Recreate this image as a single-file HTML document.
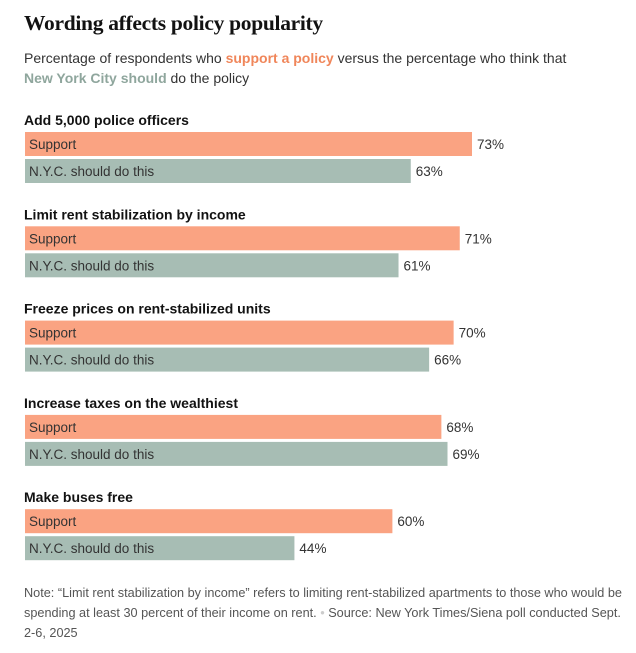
<!DOCTYPE html>
<html><head><meta charset="utf-8"><style>
body{margin:0;background:#fff;width:636px;height:653px;overflow:hidden;font-family:"Liberation Sans",sans-serif;color:#121212}
#title{position:absolute;left:24px;top:11px;font-family:"Liberation Serif",serif;font-weight:bold;font-size:21.5px;letter-spacing:-0.3px}
#sub{position:absolute;left:24px;top:49px;font-size:14px;line-height:19.5px;color:#333;width:550px}
.o{color:#f0865a;font-weight:bold}.g{color:#8fa69d;font-weight:bold}
#note{position:absolute;left:24px;top:583px;font-size:12.7px;line-height:20px;color:#555;width:600px}
svg{position:absolute;left:0;top:0}
</style></head><body>
<div id="title">Wording affects policy popularity</div>
<div id="sub">Percentage of respondents who <span class="o">support a policy</span> versus the percentage who think that<br><span class="g">New York City should</span> do the policy</div>
<svg id="chart" width="636" height="653"></svg>
<div id="note">Note: “Limit rent stabilization by income” refers to limiting rent-stabilized apartments to those who would be spending at least 30 percent of their income on rent. <span style="color:#ccc">•</span> Source: New York Times/Siena poll conducted Sept. 2-6, 2025</div>
<script>
const categories=["Add 5,000 police officers","Limit rent stabilization by income","Freeze prices on rent-stabilized units","Increase taxes on the wealthiest","Make buses free"];
const supportValues=[73,71,70,68,60];
const nycValues=[63,61,66,69,44];
const seriesLabels=["Support","N.Y.C. should do this"];
const svg=document.getElementById('chart');
const NS='http://www.w3.org/2000/svg';
const x0=25,pxPer=447/73;
function xs(v){return v*pxPer;}
function add(tag,attrs,text){const e=document.createElementNS(NS,tag);for(const k in attrs)e.setAttribute(k,attrs[k]);if(text!==undefined)e.textContent=text;svg.appendChild(e);return e;}
categories.forEach((c,i)=>{
  const gy=132+i*94.3;
  const t=add('text',{x:24,y:gy-7,'font-size':14,'font-weight':'bold',fill:'#121212','font-family':'Liberation Sans, sans-serif'},c);
  
  
  [[supportValues[i],'#faa382',0],[nycValues[i],'#a7bdb4',1]].forEach(([v,col,j])=>{
    const y=gy+j*27;
    const r=add('rect',{x:x0,y:y,width:xs(v),height:24,fill:col});
    
    
    const l=add('text',{x:x0+4,y:y+17,'font-size':13.5,fill:'#333','font-family':'Liberation Sans, sans-serif'},seriesLabels[j]);
    
    
    const vl=add('text',{x:x0+xs(v)+5,y:y+17,'font-size':13.5,fill:'#333','font-family':'Liberation Sans, sans-serif'},v+'%');
    
    
  });
});
</script>
</body></html>
